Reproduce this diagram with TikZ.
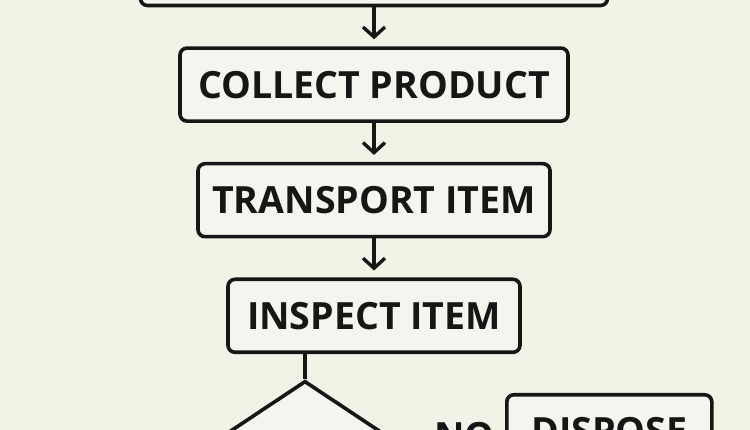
\documentclass[tikz,border=0pt]{standalone}
\usepackage{fontspec}
\setmainfont{Open Sans}
\usepackage{xcolor}
\usepackage{tikz}
\usetikzlibrary{arrows.meta,positioning,shapes.geometric}
\definecolor{paper}{HTML}{F1F3E6}
\definecolor{boxfill}{HTML}{F5F5EF}
\definecolor{ink}{HTML}{161616}
\begin{document}
\begin{tikzpicture}[
  x=1pt, y=-1pt,
  node distance=39pt,
  box/.style={draw=ink,fill=boxfill,line width=3.6pt,rounded corners=7pt,
    minimum height=73pt,inner sep=0pt,text=ink,
    font=\fontsize{37.5}{40}\selectfont\bfseries},
  decision/.style={draw=ink,fill=boxfill,line width=3.6pt,diamond,
    minimum width=234pt,minimum height=156pt,inner sep=0pt},
  arr/.style={-{Straight Barb[length=10pt,width=22pt]},line width=3.4pt,draw=ink,shorten >=7pt}
]
\clip (0,0) rectangle (750,430);
\fill[paper] (0,0) rectangle (750,430);
\node[box,minimum width=467pt] (start) at (374,-31) {};
\node[box,minimum width=388pt,below=of start] (collect) {COLLECT PRODUCT};
\node[box,minimum width=352pt,below=of collect] (transport) {TRANSPORT ITEM};
\node[box,minimum width=292pt,below=of transport] (inspect) {INSPECT ITEM};
\node[decision,below=25pt of inspect,xshift=-69pt] (check) {};
\node[box,minimum width=205pt,minimum height=72pt,anchor=north west] (dispose) at (505,393) {DISPOSE};
\draw[arr] (start) -- (collect);
\draw[arr] (collect) -- (transport);
\draw[arr] (transport) -- (inspect);
\draw[line width=3.4pt,ink] (inspect.south -| check.north) -- (check.north);
\draw[arr] (check.east) -- node[above=7pt,inner sep=0pt,text=ink,
  font=\fontsize{37.5}{40}\selectfont\bfseries] (no) {NO} (check.east -| dispose.west);
\end{tikzpicture}
\end{document}
